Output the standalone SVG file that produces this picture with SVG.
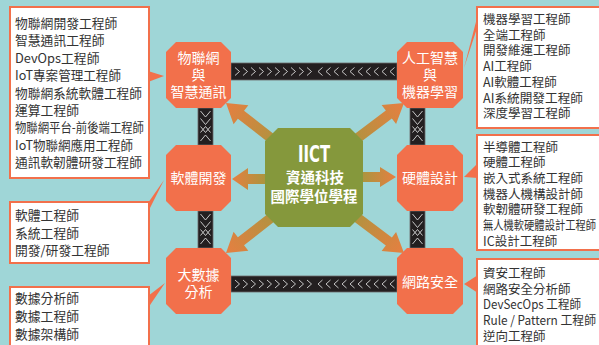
<svg xmlns="http://www.w3.org/2000/svg" xmlns:xlink="http://www.w3.org/1999/xlink" width="599" height="345" viewBox="0 0 599 345">
<defs>
<style>
.bg{fill:#9fd6d7}
.node{fill:#f2704b}
.nt{font-family:"Noto Sans CJK TC","Noto Sans CJK SC",sans-serif;font-size:14px;fill:#ffffff;text-anchor:middle}
.box{fill:#ffffff;stroke:#f2704b;stroke-width:2}
.ptr{fill:#f2704b}
.lt{font-family:"Noto Sans CJK TC","Noto Sans CJK SC",sans-serif;fill:#333333}
.bar{fill:#231f20;stroke:#6a6a6a;stroke-width:0.8}
.chev{fill:none;stroke:#d8d8d8;stroke-width:0.9}
.arr{fill:url(#ag)}
.ct{font-family:"Noto Sans CJK TC","Noto Sans CJK SC",sans-serif;font-weight:bold;fill:#ffffff;text-anchor:middle}
</style>
<linearGradient id="ag" x1="0" y1="0" x2="1" y2="0">
<stop offset="0" stop-color="#a0993e"/>
<stop offset="1" stop-color="#e67f41"/>
</linearGradient>
<polyline id="cr" class="chev" points="0,-4 4.5,0 0,4"/>
<polyline id="cl" class="chev" points="4.5,-4 0,0 4.5,4"/>
<polyline id="cd" class="chev" points="-5,0 0,6 5,0"/>
<polyline id="cu" class="chev" points="-5,6 0,0 5,6"/>
<g id="hchev">
<use xlink:href="#cr" x="235"/><use xlink:href="#cr" x="243"/><use xlink:href="#cr" x="251"/><use xlink:href="#cr" x="259"/><use xlink:href="#cr" x="267"/>
<use xlink:href="#cr" x="275"/><use xlink:href="#cr" x="283"/><use xlink:href="#cr" x="291"/><use xlink:href="#cr" x="299"/><use xlink:href="#cr" x="307"/>
<use xlink:href="#cl" x="318"/><use xlink:href="#cl" x="326"/><use xlink:href="#cl" x="334"/><use xlink:href="#cl" x="342"/><use xlink:href="#cl" x="350"/>
<use xlink:href="#cl" x="358"/><use xlink:href="#cl" x="366"/><use xlink:href="#cl" x="374"/><use xlink:href="#cl" x="382"/><use xlink:href="#cl" x="390"/>
</g>
<g id="vchev">
<use xlink:href="#cd" y="3"/><use xlink:href="#cd" y="10.5"/><use xlink:href="#cd" y="18.5"/>
<use xlink:href="#cu" y="18.5"/><use xlink:href="#cu" y="27"/>
</g>
</defs>
<rect class="bg" x="0" y="0" width="599" height="345"/>

<g id="connectors">
<rect class="bar" x="231" y="63" width="166" height="17"/>
<use xlink:href="#hchev" y="71.5"/>
<rect class="bar" x="231" y="276" width="166" height="16"/>
<use xlink:href="#hchev" y="284"/>
<rect class="bar" x="198" y="108" width="15" height="37"/>
<use xlink:href="#vchev" x="205.5" y="108"/>
<rect class="bar" x="198" y="211" width="15" height="37"/>
<use xlink:href="#vchev" x="205.5" y="211"/>
<rect class="bar" x="410" y="108" width="15" height="37"/>
<use xlink:href="#vchev" x="417.5" y="108"/>
<rect class="bar" x="410" y="211" width="15" height="37"/>
<use xlink:href="#vchev" x="417.5" y="211"/>
<path class="arr" transform="translate(226,103) rotate(-142)" d="M-81,-5 L-19,-5 L-19,-12 L0,0 L-19,12 L-19,5 L-81,5 Z"/>
<path class="arr" transform="translate(404,103) rotate(-37.1)" d="M-83,-5 L-19,-5 L-19,-12 L0,0 L-19,12 L-19,5 L-83,5 Z"/>
<path class="arr" transform="translate(226,253) rotate(142)" d="M-81,-5 L-19,-5 L-19,-12 L0,0 L-19,12 L-19,5 L-81,5 Z"/>
<path class="arr" transform="translate(404,253) rotate(37.1)" d="M-83,-5 L-19,-5 L-19,-12 L0,0 L-19,12 L-19,5 L-83,5 Z"/>
<path class="arr" transform="translate(232,179) rotate(180)" d="M-40,-5 L-16,-5 L-16,-11 L0,0 L-16,11 L-16,5 L-40,5 Z"/>
<path class="arr" transform="translate(396,177)" d="M-40,-5 L-16,-5 L-16,-10 L0,0 L-16,10 L-16,5 L-40,5 Z"/>
</g>

<g id="center">
<polygon fill="#85983c" points="278,128 350,128 363,141 363,214 350,227 278,227 265,214 265,141"/>
<text class="ct" x="314" y="162" style="font-family:'DejaVu Sans Condensed','DejaVu Sans',sans-serif" font-size="23" textLength="32" lengthAdjust="spacingAndGlyphs">IICT</text>
<text class="ct" x="315" y="183" font-size="14.5">資通科技</text>
<text class="ct" x="314" y="202" font-size="14.5">國際學位學程</text>
</g>

<g id="node-iot">
<polygon class="node" points="176,42 221,42 231,52 231,98 221,108 176,108 166,98 166,52"/>
<text class="nt" x="198.5" y="63">物聯網</text>
<text class="nt" x="198.5" y="80">與</text>
<text class="nt" x="198.5" y="97">智慧通訊</text>
</g>
<g id="node-software">
<polygon class="node" points="176,145 221,145 231,155 231,201 221,211 176,211 166,201 166,155"/>
<text class="nt" x="198.5" y="183">軟體開發</text>
</g>
<g id="node-bigdata">
<polygon class="node" points="176,248 221,248 231,258 231,304 221,314 176,314 166,304 166,258"/>
<text class="nt" x="198.5" y="280">大數據</text>
<text class="nt" x="198.5" y="297">分析</text>
</g>
<g id="node-ai">
<polygon class="node" points="407,42 453,42 463,52 463,98 453,108 407,108 397,98 397,52"/>
<text class="nt" x="430" y="63">人工智慧</text>
<text class="nt" x="430" y="80">與</text>
<text class="nt" x="430" y="97">機器學習</text>
</g>
<g id="node-hardware">
<polygon class="node" points="407,145 453,145 463,155 463,201 453,211 407,211 397,201 397,155"/>
<text class="nt" x="430" y="183">硬體設計</text>
</g>
<g id="node-security">
<polygon class="node" points="407,248 453,248 463,258 463,304 453,314 407,314 397,304 397,258"/>
<text class="nt" x="430" y="287">網路安全</text>
</g>

<g id="box-iot">
<rect class="box" x="10" y="7" width="139" height="171"/>
<polygon class="ptr" points="148,71 148,82 164,76"/>
<text class="lt" font-size="12.8" x="15" y="28">物聯網開發工程師</text>
<text class="lt" font-size="12.8" x="15" y="45.4">智慧通訊工程師</text>
<text class="lt" font-size="12.8" x="15" y="62.8">DevOps工程師</text>
<text class="lt" font-size="12.8" x="15" y="80.2" textLength="106" lengthAdjust="spacingAndGlyphs">IoT專案管理工程師</text>
<text class="lt" font-size="12.8" x="15" y="97.6" textLength="127" lengthAdjust="spacingAndGlyphs">物聯網系統軟體工程師</text>
<text class="lt" font-size="12.8" x="15" y="115">運算工程師</text>
<text class="lt" font-size="12.8" x="15" y="132.4" textLength="129" lengthAdjust="spacingAndGlyphs">物聯網平台-前後端工程師</text>
<text class="lt" font-size="12.8" x="15" y="149.8" textLength="118" lengthAdjust="spacingAndGlyphs">IoT物聯網應用工程師</text>
<text class="lt" font-size="12.8" x="15" y="167.2" textLength="127" lengthAdjust="spacingAndGlyphs">通訊軟韌體研發工程師</text>
</g>
<g id="box-software">
<rect class="box" x="10" y="202" width="139" height="61"/>
<polygon class="ptr" points="164,180 148,203 148,212"/>
<text class="lt" font-size="12.8" x="15" y="220">軟體工程師</text>
<text class="lt" font-size="12.8" x="15" y="237.5">系統工程師</text>
<text class="lt" font-size="12.8" x="15" y="255">開發/研發工程師</text>
</g>
<g id="box-bigdata">
<rect class="box" x="10" y="287" width="139" height="70"/>
<polygon class="ptr" points="165,283 148,296 148,308"/>
<text class="lt" font-size="12.8" x="15" y="303">數據分析師</text>
<text class="lt" font-size="12.8" x="15" y="321">數據工程師</text>
<text class="lt" font-size="12.8" x="15" y="338.5">數據架構師</text>
</g>
<g id="box-ai">
<rect class="box" x="477" y="7" width="135" height="121"/>
<polygon class="ptr" points="464,68 478,14 478,25"/>
<text class="lt" font-size="12.5" x="483" y="24">機器學習工程師</text>
<text class="lt" font-size="12.5" x="483" y="39.7">全端工程師</text>
<text class="lt" font-size="12.5" x="483" y="55.4">開發維運工程師</text>
<text class="lt" font-size="12.5" x="483" y="71.1">AI工程師</text>
<text class="lt" font-size="12.5" x="483" y="86.8">AI軟體工程師</text>
<text class="lt" font-size="12.5" x="483" y="102.5" textLength="100" lengthAdjust="spacingAndGlyphs">AI系統開發工程師</text>
<text class="lt" font-size="12.5" x="483" y="118.2">深度學習工程師</text>
</g>
<g id="box-hardware">
<rect class="box" x="477" y="135" width="135" height="115"/>
<polygon class="ptr" points="464,177 478,163 478,178"/>
<text class="lt" font-size="12.5" x="483" y="151.5">半導體工程師</text>
<text class="lt" font-size="12.5" x="483" y="167.2">硬體工程師</text>
<text class="lt" font-size="12.5" x="483" y="182.9">嵌入式系統工程師</text>
<text class="lt" font-size="12.5" x="483" y="198.6">機器人機構設計師</text>
<text class="lt" font-size="12.5" x="483" y="214.3">軟韌體研發工程師</text>
<text class="lt" font-size="12.5" x="483" y="230" textLength="113" lengthAdjust="spacingAndGlyphs">無人機軟硬體設計工程師</text>
<text class="lt" font-size="12.5" x="483" y="245.7">IC設計工程師</text>
</g>
<g id="box-security">
<rect class="box" x="477" y="259" width="135" height="95"/>
<polygon class="ptr" points="464,284 478,275 478,293"/>
<text class="lt" font-size="12.5" x="483" y="278">資安工程師</text>
<text class="lt" font-size="12.5" x="483" y="293.7">網路安全分析師</text>
<text class="lt" font-size="12.5" x="483" y="309.4" textLength="98" lengthAdjust="spacingAndGlyphs">DevSecOps 工程師</text>
<text class="lt" font-size="12.5" x="483" y="325.1" textLength="113" lengthAdjust="spacingAndGlyphs">Rule / Pattern 工程師</text>
<text class="lt" font-size="12.5" x="483" y="340.8">逆向工程師</text>
</g>
</svg>
